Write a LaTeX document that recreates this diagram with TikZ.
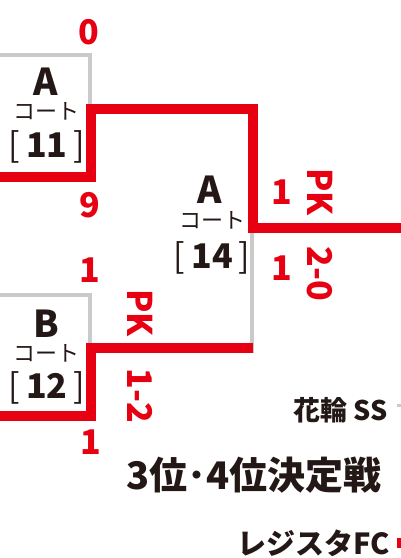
\documentclass[tikz,border=0pt]{standalone}
\usepackage{fontspec}
\setmainfont{Noto Sans CJK JP}
\definecolor{jred}{HTML}{E60012}
\definecolor{jink}{HTML}{231815}
\definecolor{jgray}{HTML}{C9CACA}
\begin{document}
\begin{tikzpicture}[x=1pt, y=-1pt,
    win/.style = {draw=jred, line width=10pt},
    lose/.style = {draw=jgray, line width=4pt},
    score/.style = {inner sep=0, text=jred, font=\fontsize{34}{34}\selectfont\bfseries},
    pk/.style = {inner sep=0, text=jred, rotate=-90, font=\fontsize{34}{34}\selectfont\bfseries},
    court/.style = {inner sep=0, text=jink, font=\fontsize{37}{37}\selectfont\bfseries},
    kana/.style = {inner sep=0, text=jink, font=\fontsize{22}{22}\selectfont},
    num/.style = {inner sep=0, text=jink, font=\fontsize{34}{34}\selectfont},
    team/.style = {inner sep=0, text=jink, anchor=east, font=\fontsize{27}{27}\selectfont\bfseries}]
    \useasboundingbox (0,0) rectangle (401,558);

    % bracket corners
    \coordinate (t0) at (0,54.5);
    \coordinate (t1) at (89.5,54.5);
    \coordinate (t2) at (89.5,104);
    \coordinate (u0) at (0,176.5);
    \coordinate (u1) at (90.5,176.5);
    \coordinate (u2) at (90.5,109);
    \coordinate (u3) at (252.5,109);
    \coordinate (u4) at (252.5,228);
    \coordinate (u5) at (401,228);
    \coordinate (g1) at (252,228);
    \coordinate (g2) at (252,353);
    \coordinate (b0) at (0,294.5);
    \coordinate (b1) at (89.5,294.5);
    \coordinate (b2) at (89.5,343);
    \coordinate (l0) at (0,416);
    \coordinate (l1) at (90.5,416);
    \coordinate (l2) at (90.5,348);
    \coordinate (l3) at (253,348);
    \coordinate (s0) at (397,405);
    \coordinate (s1) at (401,405);
    \coordinate (r0) at (397,543);
    \coordinate (r1) at (401,543);

    \draw[lose] (t0) -- (t1) -- (t2);
    \draw[lose] (b0) -- (b1) -- (b2);
    \draw[lose] (g1) -- (g2);
    \draw[lose, line width=3pt] (s0) -- (s1);
    \draw[win] (u0) -- (u1) -- (u2) -- (u3) -- (u4) -- (u5);
    \draw[win] (l0) -- (l1) -- (l2) -- (l3);
    \draw[win] (r0) -- (r1);

    % courts
    \node[court] (c11) at (46,81.5) {A};
    \node[kana] (k11) at (46,111.5) {コート};
    \node[num] (n11) at (47,146.5) {{[}\hspace{6pt}{\bfseries 11}\hspace{6pt}{]}};
    \node[court] (c14) at (210,190) {A};
    \node[kana] (k14) at (212,220) {コート};
    \node[num] (n14) at (212,258) {{[}\hspace{6pt}{\bfseries 14}\hspace{6pt}{]}};
    \node[court] (c12) at (46,323.5) {B};
    \node[kana] (k12) at (46,353) {コート};
    \node[num] (n12) at (47,388) {{[}\hspace{6pt}{\bfseries 12}\hspace{6pt}{]}};

    % scores
    \node[score] (s11a) at (89,32) {0};
    \node[score] (s11b) at (90,205) {9};
    \node[score] (s12a) at (90,270) {1};
    \node[score] (s12b) at (91,442) {1};
    \node[score] (s14a) at (282,192) {1};
    \node[score] (s14b) at (282,268) {1};
    \node[pk] (pk14) at (320,192) {PK};
    \node[pk] (pr14) at (320,274) {2-0};
    \node[pk] (pk12) at (140,313) {PK};
    \node[pk] (pr12) at (140,396) {1-2};

    % third place
    \node[team] (hanawa) at (388,410) {花輪 SS};
    \node[inner sep=0, text=jink, font=\fontsize{38}{38}\selectfont\bfseries] (title) at (254,475) {3位･4位決定戦};
    \node[team, font=\fontsize{29}{29}\selectfont\bfseries] (regista) at (390,543) {レジスタFC};

\end{tikzpicture}
\end{document}
